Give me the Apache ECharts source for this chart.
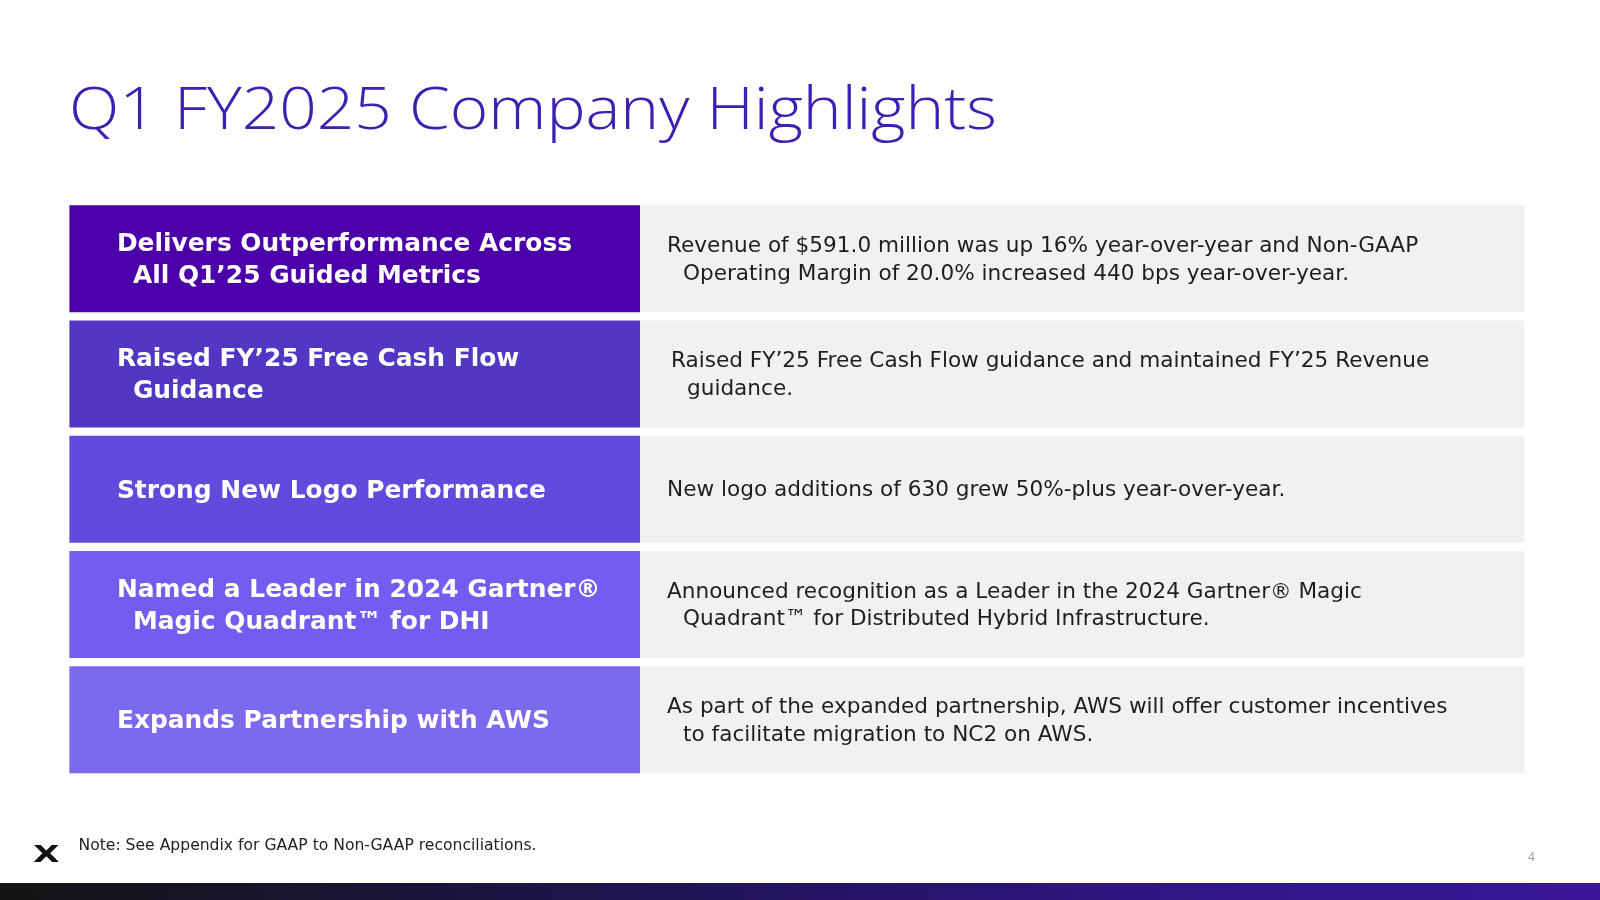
<!DOCTYPE html>
<html><head><meta charset="utf-8">
<script src="https://cdn.jsdelivr.net/npm/echarts@6/dist/echarts.min.js"></script>
<style>html,body{margin:0;padding:0;background:#fff}#c{width:1600px;height:900px}</style>
</head><body><div id="c"></div>
<script>
// ---- data ----
const titleText = 'Q1 FY2025 Company Highlights';
const rowKeys = ['r1', 'r2', 'r3', 'r4', 'r5'];
const headlines = [
  'Delivers Outperformance Across\nAll Q1\u201925 Guided Metrics',
  'Raised FY\u201925 Free Cash Flow\nGuidance',
  'Strong New Logo Performance',
  'Named a Leader in 2024 Gartner\u00ae\nMagic Quadrant\u2122 for DHI',
  'Expands Partnership with AWS'
];
const details = [
  'Revenue of $591.0 million was up 16% year-over-year and Non-GAAP\nOperating Margin of 20.0% increased 440 bps year-over-year.',
  'Raised FY\u201925 Free Cash Flow guidance and maintained FY\u201925 Revenue\nguidance.',
  'New logo additions of 630 grew 50%-plus year-over-year.',
  'Announced recognition as a Leader in the 2024 Gartner\u00ae Magic\nQuadrant\u2122 for Distributed Hybrid Infrastructure.',
  'As part of the expanded partnership, AWS will offer customer incentives\nto facilitate migration to NC2 on AWS.'
];
const noteText = 'Note: See Appendix for GAAP to Non-GAAP reconciliations.';
const pageNumber = '4';

// ---- styling / layout ----
const headlineColors = ['#4B00AA', '#5237C4', '#6449DD', '#725DF0', '#7B69EE'];
const LEFT_W = 570.6, RIGHT_W = 884.4;
const SANS = '"Open Sans", "Noto Sans", sans-serif';
const WIDE = '"DejaVu Sans", "Noto Sans", sans-serif';

function richLines(text, a, b) {
  return text.split('\n').map((l, i) => '{' + (i === 0 ? a : b) + '|' + l + '}').join('\n');
}
const mctx = document.createElement('canvas').getContext('2d');
function fitSize(text, weight, family, base, target) {
  mctx.font = weight + ' ' + base + 'px ' + family;
  return Math.round(base * target / mctx.measureText(text).width * 10) / 10;
}

// sizes matched to the reference's line widths
const TITLE_FONT = 58;
mctx.font = '300 ' + TITLE_FONT + 'px "Open Sans"';
const titleScale = 928 / mctx.measureText(titleText).width;
const H_FONT = fitSize(headlines[0].split('\n')[0], 700, WIDE, 24, 455);
const D_FONT = fitSize(details[0].split('\n')[0], 400, WIDE, 20, 752);
const N_FONT = fitSize(noteText, 400, WIDE, 14, 457);

const chart = echarts.init(document.getElementById('c'), null, {renderer: 'canvas'});
chart.setOption({
  animation: false,
  backgroundColor: '#ffffff',
  grid: {left: 69.4, right: 1600 - 69.4 - LEFT_W - RIGHT_W, top: 201, bottom: 900 - 777.5},
  xAxis: {type: 'value', min: 0, max: LEFT_W + RIGHT_W, show: false},
  yAxis: {type: 'category', data: rowKeys, inverse: true, show: false},
  series: [
    {
      type: 'bar', stack: 'row', barWidth: 107, silent: true,
      data: headlines.map((h, i) => ({value: LEFT_W, itemStyle: {color: headlineColors[i]}})),
      label: {
        show: true, position: 'insideLeft', distance: 47.5, offset: [0, 2],
        formatter: p => richLines(headlines[p.dataIndex], 'h', 'hi'),
        rich: {
          h: {fontFamily: WIDE, fontWeight: 700, fontSize: H_FONT, color: '#ffffff', lineHeight: 32},
          hi: {fontFamily: WIDE, fontWeight: 700, fontSize: H_FONT, color: '#ffffff', lineHeight: 32, padding: [0, 0, 0, 16]}
        }
      }
    },
    {
      type: 'bar', stack: 'row', barWidth: 107, silent: true,
      data: details.map((d, i) => ({value: RIGHT_W, label: {distance: i === 1 ? 31 : 27}})),
      itemStyle: {color: '#F1F1F1'},
      label: {
        show: true, position: 'insideLeft', distance: 27, offset: [0, 1.5],
        formatter: p => richLines(details[p.dataIndex], 'd', 'di'),
        rich: {
          d: {fontFamily: WIDE, fontWeight: 400, fontSize: D_FONT, color: '#1e1e1e', lineHeight: 27.5},
          di: {fontFamily: WIDE, fontWeight: 400, fontSize: D_FONT, color: '#1e1e1e', lineHeight: 27.5, padding: [0, 0, 0, 16]}
        }
      }
    }
  ],
  graphic: [
    {type: 'text', x: 69, y: 83.5, scaleX: titleScale, silent: true,
     style: {text: titleText, fontFamily: '"Open Sans"', fontWeight: 300, fontSize: TITLE_FONT, fill: '#3D20B2'}},
    {type: 'text', left: 78.5, top: 837.5, silent: true,
     style: {text: noteText, fontFamily: WIDE, fontSize: N_FONT, fill: '#222222'}},
    {type: 'text', x: 33, y: 845, scaleX: 1.5, silent: true,
     style: {text: 'X', fontFamily: WIDE, fontWeight: 700, fontSize: 23, fill: '#111111'}},
    {type: 'text', left: 1528, top: 852, silent: true,
     style: {text: pageNumber, fontFamily: SANS, fontSize: 12, fill: '#9a9a9a'}},
    {type: 'rect', left: 0, top: 883, silent: true, shape: {width: 1600, height: 17},
     style: {fill: new echarts.graphic.LinearGradient(0, 0, 1, 0, [
       {offset: 0, color: '#141414'}, {offset: 0.25, color: '#1a1538'}, {offset: 0.5, color: '#241462'},
       {offset: 0.75, color: '#2f1686'}, {offset: 1, color: '#3a1799'}])}}
  ]
});
</script></body></html>
